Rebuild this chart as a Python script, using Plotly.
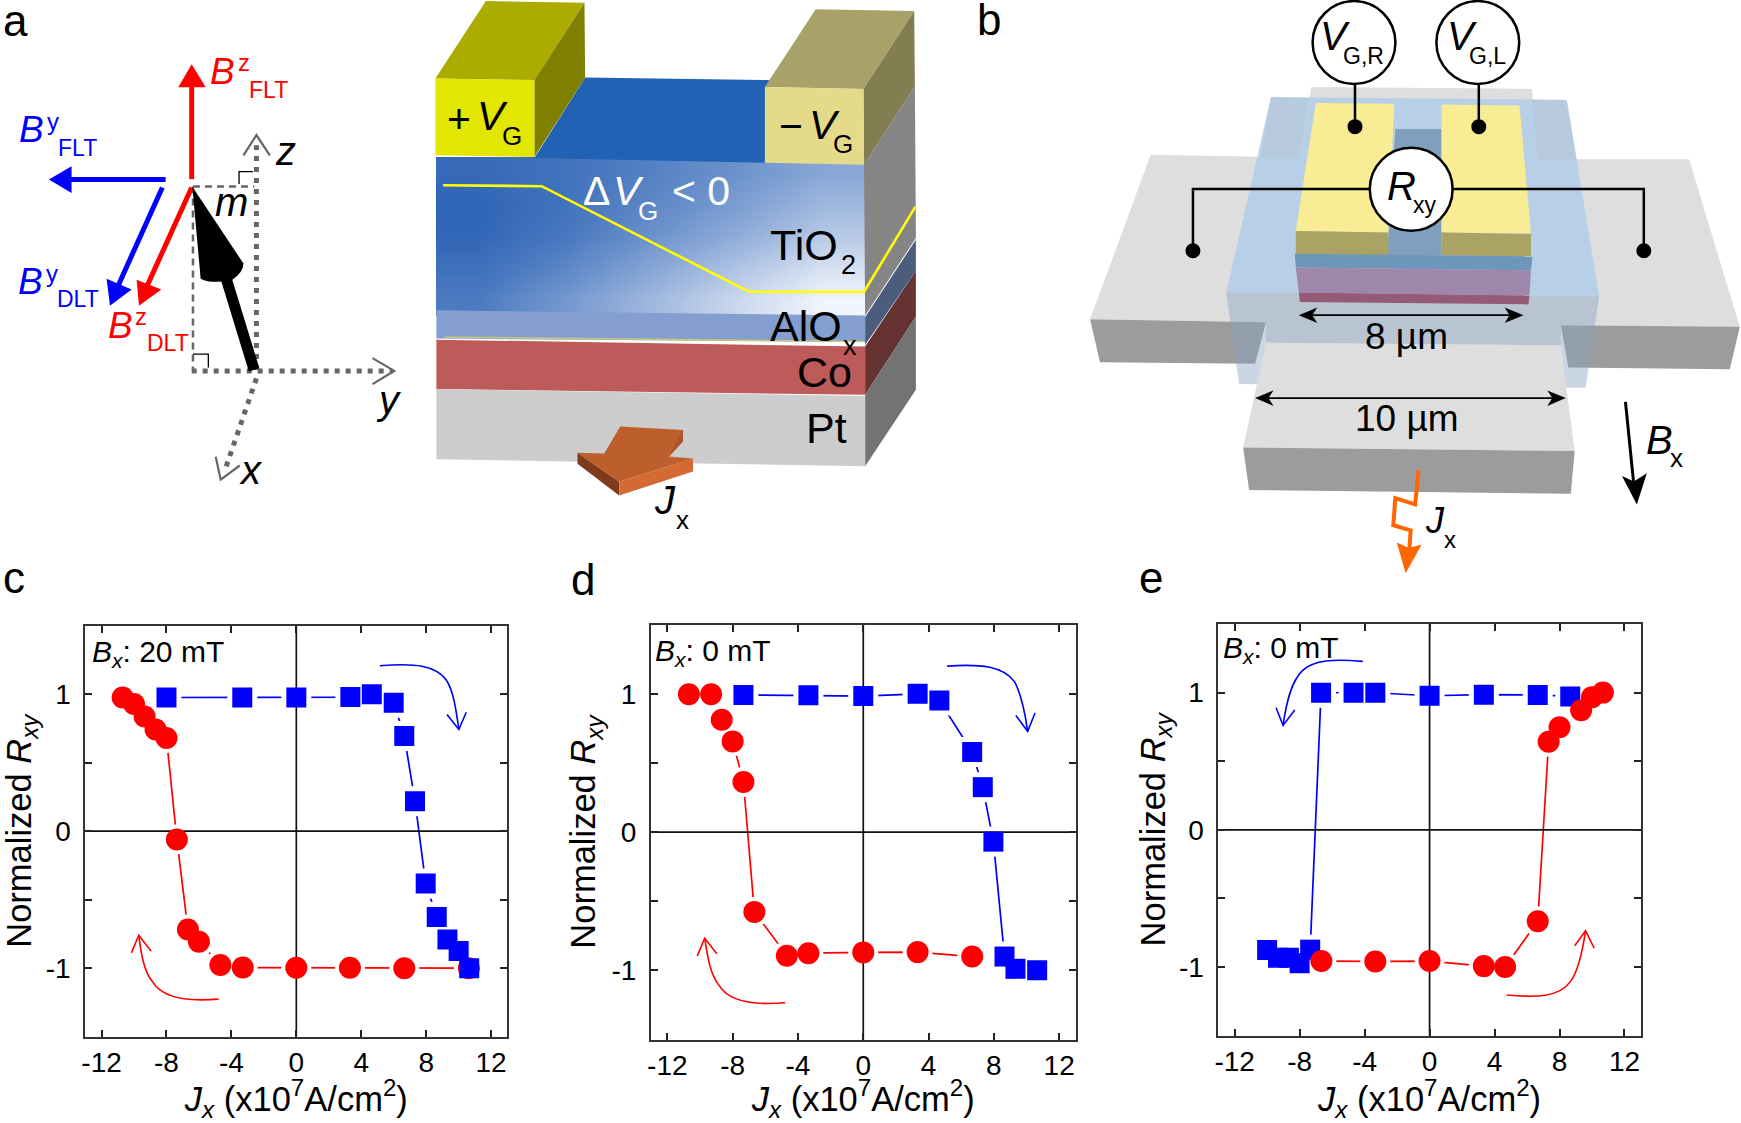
import plotly.graph_objects as go

W, H = 1741, 1123
FONT = "Liberation Sans"

# ---------- data ----------
X_TICKS = [-12, -8, -4, 0, 4, 8, 12]
X_TICK_LABELS = ["-12", "-8", "-4", "0", "4", "8", "12"]
Y_TICKS = [-1, -0.5, 0, 0.5, 1]
Y_TICK_LABELS = ["-1", "", "0", "", "1"]

C_RED_X = [-10.7, -10.0, -9.35, -8.67, -8.0, -7.36, -6.68, -6.0, -4.68, -3.3, 0, 3.3, 6.65, 10.63]
C_RED_Y = [0.976, 0.928, 0.837, 0.743, 0.68, -0.06, -0.717, -0.807, -0.976, -0.995, -0.997, -0.997, -1.0, -1.0]
C_BLUE_X = [-8.0, -3.33, 0, 3.33, 4.65, 6.0, 6.65, 7.31, 7.97, 8.65, 9.31, 10.0, 10.65]
C_BLUE_Y = [0.976, 0.976, 0.976, 0.979, 1.0, 0.938, 0.695, 0.219, -0.382, -0.626, -0.791, -0.874, -1.0]

D_RED_X = [-10.68, -9.32, -8.67, -8.0, -7.34, -6.67, -4.68, -3.36, 0, 3.33, 6.67]
D_RED_Y = [0.997, 0.997, 0.812, 0.656, 0.362, -0.577, -0.894, -0.876, -0.87, -0.868, -0.9]
D_BLUE_X = [-7.34, -3.36, 0, 3.33, 4.66, 6.67, 7.32, 7.97, 8.65, 9.32, 10.65]
D_BLUE_Y = [0.992, 0.989, 0.984, 1.0, 0.952, 0.579, 0.325, -0.069, -0.9, -0.989, -1.0]

E_RED_X = [-6.66, -3.34, 0, 3.34, 4.65, 6.66, 7.33, 8.0, 9.33, 10.0, 10.67]
E_RED_Y = [-0.956, -0.959, -0.956, -0.993, -1.0, -0.666, 0.642, 0.748, 0.871, 0.967, 1.0]
E_BLUE_X = [-10.0, -9.33, -8.66, -8.0, -7.35, -6.68, -4.68, -3.34, 0, 3.34, 6.66, 8.66]
E_BLUE_Y = [-0.876, -0.932, -0.932, -0.972, -0.873, 0.999, 0.999, 0.999, 0.977, 0.985, 0.983, 0.972]

PANEL_DATA = [
    (C_RED_X, C_RED_Y, C_BLUE_X, C_BLUE_Y, "red_first"),
    (D_RED_X, D_RED_Y, D_BLUE_X, D_BLUE_Y, "red_first"),
    (E_RED_X, E_RED_Y, E_BLUE_X, E_BLUE_Y, "blue_first"),
]
PANEL_BOXES = [(81.5, 504.5, 625.7, 1036.7), (648.5, 1074, 624.7, 1039.5), (1217.2, 1640.5, 624, 1035.7)]
PANEL_TITLE_GAP = [7, 5, 3]
PANEL_FIELD = ["20 mT", "0 mT", "0 mT"]

GRADIENT_X = [433, 519, 605, 692, 778, 864]
GRADIENT_Y = [157, 189, 221, 252, 284, 316]
GRADIENT_Z = [
    [0.04, 0.10, 0.20, 0.32, 0.46],
    [0.01, 0.10, 0.24, 0.40, 0.58],
    [0.02, 0.14, 0.32, 0.50, 0.70],
    [0.08, 0.24, 0.45, 0.66, 0.86],
    [0.16, 0.36, 0.58, 0.80, 1.00],
]

RED, BLUE = "#FF0000", "#0000FF"

fig = go.Figure()
shapes, notes = [], []


# ---------- helpers for the illustration layer (canvas pixels) ----------
def z4(p): return (p[0] / 2.99 - 5.2, p[1] / 2.96)
def z5(p): return (416.7 + p[0] / 2.986, p[1] / 2.9)
def z6(p): return (960 + p[0] / 2.007, p[1] / 2.7)
def zc(p): return (p[0] / 2.703 - 2.5, 550 + p[1] / 2.73)
def zd(p): return (558 + p[0] / 2.703, 550 + p[1] / 2.73)
def ze(p): return (1130 + p[0] / 2.566, 550 + p[1] / 2.737)


def add_shape(path, fill=None, color=None, width=0, dash=None):
    line = dict(width=width, color=color or "rgba(0,0,0,0)")
    if dash:
        line["dash"] = dash
    shapes.append(dict(type="path", path=path, xref="x4", yref="y4", layer="above",
                       fillcolor=fill or "rgba(0,0,0,0)", line=line))


def poly(mapper, pts, fill, color=None, width=0):
    q = [mapper(p) for p in pts]
    add_shape("M" + " L".join(f"{a:.1f},{b:.1f}" for a, b in q) + " Z", fill, color, width)


def pline(mapper, pts, color, width, dash=None):
    q = [mapper(p) for p in pts]
    add_shape("M" + " L".join(f"{a:.1f},{b:.1f}" for a, b in q), None, color, width, dash)


def circle(mapper, c, r, fill, color=None, width=0):
    x, y = mapper(c)
    shapes.append(dict(type="circle", xref="x4", yref="y4", layer="above",
                       x0=x - r, x1=x + r, y0=y - r, y1=y + r, fillcolor=fill,
                       line=dict(width=width, color=color or "rgba(0,0,0,0)")))


def text(mapper, pos, s, size, color="#000000", italic=False, xshift=-3):
    x, y = mapper(pos)
    if italic:
        s = f"<i>{s}</i>"
    notes.append(dict(x=max(x, 0.5), y=y - 0.3465 * size, xref="x4", yref="y4", text=s, showarrow=False,
                      xanchor="left", yanchor="middle", borderpad=0, xshift=xshift,
                      font=dict(family=FONT, size=size, color=color)))


def curved(mapper, start, segs, head, color):
    s = mapper(start)
    d = f"M{s[0]:.1f},{s[1]:.1f}"
    for c1, c2, e in segs:
        a, b, c = mapper(c1), mapper(c2), mapper(e)
        d += f" C{a[0]:.1f},{a[1]:.1f} {b[0]:.1f},{b[1]:.1f} {c[0]:.1f},{c[1]:.1f}"
    add_shape(d, None, color, 1.6)
    pline(mapper, head, color, 1.6)


# ---------- panels c, d, e ----------
for i, ((rx, ry, bx, by, order), box) in enumerate(zip(PANEL_DATA, PANEL_BOXES)):
    n = "" if i == 0 else str(i + 1)
    xa, ya = f"x{n}", f"y{n}"
    xaxis = dict(domain=[box[0] / W, box[1] / W], range=[-13, 13], tickvals=X_TICKS, ticktext=X_TICK_LABELS,
                 ticks="inside", ticklen=7, tickwidth=1.5, tickcolor="#222", showline=True, linecolor="#333",
                 linewidth=2, mirror="ticks", showgrid=False, zeroline=False, anchor=ya, ticklabelstandoff=0,
                 tickfont=dict(family=FONT, size=28, color="#000"),
                 title=dict(text="<i>J<sub>x</sub></i> (x10<sup>7</sup>A/cm<sup>2</sup>)", standoff=13,
                            font=dict(family=FONT, size=34.5, color="#000")))
    yaxis = dict(domain=[1 - box[3] / H, 1 - box[2] / H], range=[-1.5, 1.5], tickvals=Y_TICKS, ticktext=Y_TICK_LABELS,
                 ticks="inside", ticklen=7, tickwidth=1.5, tickcolor="#222", showline=True, linecolor="#333",
                 linewidth=2, mirror="ticks", showgrid=False, zeroline=False, anchor=xa, ticklabelstandoff=7,
                 tickfont=dict(family=FONT, size=28, color="#000"),
                 title=dict(text="Normalized <i>R<sub>xy</sub></i>", standoff=PANEL_TITLE_GAP[i],
                            font=dict(family=FONT, size=34.5, color="#000")))
    fig.update_layout({f"xaxis{n}": xaxis, f"yaxis{n}": yaxis})

    kw = dict(xaxis=xa, yaxis=ya, hoverinfo="skip", showlegend=False)
    fig.add_trace(go.Scatter(x=rx, y=ry, mode="lines", line=dict(color=RED, width=1.7), **kw))
    fig.add_trace(go.Scatter(x=bx, y=by, mode="lines", line=dict(color=BLUE, width=1.7), **kw))
    fig.add_trace(go.Scatter(x=rx, y=ry, mode="markers", marker=dict(symbol="circle", size=30, color="white"), **kw))
    fig.add_trace(go.Scatter(x=bx, y=by, mode="markers", marker=dict(symbol="square", size=30, color="white"), **kw))
    fig.add_trace(go.Scatter(x=[-13, 13], y=[0, 0], mode="lines", line=dict(color="#111", width=1.7), **kw))
    fig.add_trace(go.Scatter(x=[0, 0], y=[-1.5, 1.5], mode="lines", line=dict(color="#111", width=1.7), **kw))
    red = go.Scatter(x=rx, y=ry, mode="markers", name="red", marker=dict(symbol="circle", size=22, color=RED), **kw)
    blue = go.Scatter(x=bx, y=by, mode="markers", name="blue", marker=dict(symbol="square", size=20, color=BLUE), **kw)
    for tr in ([red, blue] if order == "red_first" else [blue, red]):
        fig.add_trace(tr)

text(zc, (250, 310), f"<i>B<sub>x</sub></i>: {PANEL_FIELD[0]}", 30)
text(zd, (260, 308), f"<i>B<sub>x</sub></i>: {PANEL_FIELD[1]}", 30)
text(ze, (240, 302), f"<i>B<sub>x</sub></i>: {PANEL_FIELD[2]}", 30)

curved(zc, (1025, 316), [((1120, 308), (1175, 315), (1205, 355)), ((1225, 385), (1232, 440), (1239, 490))],
       [(1207, 449), (1239, 490), (1259, 443)], BLUE)
curved(zc, (588, 1226), [((520, 1232), (440, 1230), (410, 1180)), ((385, 1150), (378, 1100), (372, 1052))],
       [(352, 1100), (372, 1052), (405, 1095)], RED)
curved(zd, (1047, 317), [((1140, 310), (1200, 318), (1230, 360)), ((1248, 395), (1258, 445), (1265, 495))],
       [(1233, 452), (1265, 495), (1285, 445)], BLUE)
curved(zd, (608, 1236), [((540, 1242), (460, 1240), (430, 1190)), ((405, 1160), (398, 1110), (390, 1060))],
       [(370, 1108), (390, 1060), (423, 1102)], RED)
curved(ze, (595, 305), [((520, 298), (470, 300), (440, 330)), ((410, 360), (398, 420), (390, 480))],
       [(372, 432), (390, 480), (420, 438)], BLUE)
curved(ze, (965, 1218), [((1040, 1225), (1100, 1225), (1130, 1180)), ((1150, 1150), (1160, 1100), (1168, 1042))],
       [(1140, 1083), (1168, 1042), (1190, 1090)], RED)

text(zc, (2, 118), "c", 44)
text(zd, (34, 122), "d", 44)
text(ze, (24, 118), "e", 44)

# ---------- panel a: vectors ----------
GD = "#666666"
pline(z4, [(772, 1095), (772, 430)], GD, 5, "5px,6px")
pline(z4, [(578, 1098), (1180, 1098)], GD, 5, "5px,6px")
pline(z4, [(772, 1120), (680, 1385)], GD, 5, "5px,6px")
pline(z4, [(582, 552), (765, 552)], GD, 2.5, "7px,5px")
pline(z4, [(582, 552), (582, 1095)], GD, 2.5, "7px,5px")
pline(z4, [(733, 460), (772, 400), (812, 460)], GD, 2.2)
pline(z4, [(1120, 1060), (1185, 1098), (1120, 1137)], GD, 2.2)
pline(z4, [(650, 1352), (665, 1420), (722, 1378)], GD, 2.2)
pline(z4, [(720, 545), (720, 508), (762, 508)], "#000", 1.3)
pline(z4, [(582, 1048), (628, 1048), (628, 1088)], "#000", 1.3)

pline(z4, [(578, 530), (578, 250)], RED, 5)
poly(z4, [(578, 190), (538, 258), (620, 258)], RED)
pline(z4, [(500, 531), (215, 531)], BLUE, 5)
poly(z4, [(150, 531), (218, 492), (218, 571)], BLUE)
pline(z4, [(490, 555), (358, 845)], BLUE, 5)
poly(z4, [(333, 905), (323, 825), (398, 857)], BLUE)
pline(z4, [(578, 555), (445, 845)], RED, 5)
poly(z4, [(420, 905), (413, 828), (487, 857)], RED)
pline(z4, [(765, 1095), (680, 820)], "#000", 11)
a, b, c, d, e, f = [z4(p) for p in [(580, 553), (733, 780), (733, 805), (640, 842), (605, 825), (700, 828)]]
add_shape(f"M{a[0]:.1f},{a[1]:.1f} L{b[0]:.1f},{b[1]:.1f} Q{c[0]:.1f},{c[1]:.1f} {f[0]:.1f},{f[1]:.1f} "
          f"Q{d[0]:.1f},{d[1]:.1f} {e[0]:.1f},{e[1]:.1f} Z", "#000")

text(z4, (2, 105), "a", 44)
text(z4, (640, 250), "B", 37, RED, True)
text(z4, (722, 210), "z", 24, RED)
text(z4, (756, 290), "FLT", 23, RED)
text(z4, (66, 420), "B", 37, BLUE, True)
text(z4, (149, 385), "y", 24, BLUE)
text(z4, (182, 462), "FLT", 23, BLUE)
text(z4, (62, 870), "B", 37, BLUE, True)
text(z4, (146, 835), "y", 24, BLUE)
text(z4, (180, 910), "DLT", 23, BLUE)
text(z4, (334, 1000), "B", 37, RED, True)
text(z4, (414, 962), "z", 24, RED)
text(z4, (451, 1040), "DLT", 23, RED)
text(z4, (654, 640), "m", 40, "#000", True)
text(z4, (834, 487), "z", 40, "#000", True)
text(z4, (1135, 1225), "y", 40, "#000", True)
text(z4, (726, 1432), "x", 40, "#000", True)

# ---------- panel a: stack ----------
fig.add_trace(go.Heatmap(x=GRADIENT_X, y=GRADIENT_Y, z=GRADIENT_Z, zmin=0, zmax=1, zsmooth="best", showscale=False,
                         colorscale=[[0, "#2E64B6"], [1, "#F2F5FB"]], hoverinfo="skip", xaxis="x4", yaxis="y4"))
poly(z5, [(495, 225), (1045, 232), (1033, 472), (343, 458)], "#2162B4")
poly(z5, [(47, 228), (198, 3), (493, 8), (343, 232)], "#ABAB00")
poly(z5, [(343, 232), (493, 8), (495, 225), (343, 455)], "#808000")
poly(z5, [(47, 228), (343, 232), (343, 455), (47, 450)], "#E3E600")
poly(z5, [(1033, 252), (1185, 27), (1480, 32), (1328, 258)], "#A9A268")
poly(z5, [(1328, 258), (1480, 32), (1482, 250), (1330, 478)], "#827E52")
poly(z5, [(1033, 252), (1328, 258), (1330, 478), (1033, 472)], "#E3DB8A")
poly(z5, [(1330, 478), (1482, 250), (1485, 690), (1333, 915)], "#858585")
poly(z5, [(1333, 920), (1485, 695), (1485, 785), (1333, 1000)], "#4A5D7C")
poly(z5, [(1333, 1005), (1485, 785), (1485, 918), (1333, 1145)], "#663333")
poly(z5, [(1333, 1145), (1485, 918), (1485, 1130), (1333, 1352)], "#737373")
poly(z5, [(50, 900), (1333, 915), (1333, 992), (50, 982)], "#849FCF")
poly(z5, [(50, 985), (1333, 1005), (1333, 1145), (50, 1128)], "#BD5A5A")
poly(z5, [(50, 1128), (1333, 1148), (1333, 1352), (50, 1332)], "#CDCDCD")
pline(z5, [(70, 537), (365, 540), (985, 846), (1330, 846), (1483, 600)], "#FFFF00", 2.6)
pline(z5, [(75, 978), (1330, 990)], "#C8C87A", 1.5)
poly(z5, [(472, 1313), (597, 1397), (597, 1437), (472, 1345)], "#7F3B1C")
poly(z5, [(597, 1397), (818, 1330), (818, 1367), (597, 1437)], "#D36A33")
poly(z5, [(788, 1247), (788, 1280), (745, 1325), (818, 1330), (700, 1320)], "#A9542A")
poly(z5, [(600, 1237), (788, 1247), (745, 1325), (818, 1330), (597, 1397), (472, 1313), (552, 1315)], "#BC5F2C")

text(z5, (88, 385), "+", 41)
text(z5, (176, 378), "V", 41, "#000", True)
text(z5, (251, 420), "G", 26)
text(z5, (1081, 408), "\u2212", 41)
text(z5, (1171, 403), "V", 41, "#000", True)
text(z5, (1244, 443), "G", 26)
text(z5, (496, 595), "\u0394", 41, "#FFF")
text(z5, (585, 595), "V", 41, "#FFF", True)
text(z5, (660, 637), "G", 26, "#FFF")
text(z5, (761, 595), "&lt; 0", 41, "#FFF")
text(z5, (1054, 755), "TiO", 43)
text(z5, (1266, 797), "2", 27)
text(z5, (1054, 988), "AlO", 43)
text(z5, (1274, 1030), "x", 27)
text(z5, (1136, 1123), "Co", 43)
text(z5, (1162, 1283), "Pt", 43)
text(z5, (708, 1490), "J", 40, "#000", True)
text(z5, (772, 1535), "x", 26)

# ---------- panel b: device ----------
poly(z6, [(703, 235), (1147, 240), (1160, 430), (1463, 430), (1565, 882), (1205, 878), (1205, 932), (612, 925),
          (612, 870), (258, 862), (380, 418), (680, 425)], "#DEDEDE")
poly(z6, [(258, 862), (612, 870), (590, 982), (278, 978)], "#9C9C9C")
poly(z6, [(1205, 878), (1565, 882), (1545, 997), (1220, 992)], "#9C9C9C")
poly(z6, [(622, 262), (1217, 270), (1282, 800), (532, 790)], "rgba(178,204,234,0.85)")
poly(z6, [(622, 262), (697, 265), (680, 425), (600, 425)], "rgba(170,180,190,0.3)")
poly(z6, [(1147, 268), (1217, 270), (1237, 430), (1160, 430)], "rgba(170,180,190,0.3)")
poly(z6, [(532, 790), (1282, 800), (1255, 1047), (558, 1037)], "rgba(140,165,195,0.45)")
poly(z6, [(612, 925), (1205, 932), (1233, 1218), (566, 1208)], "#DEDEDE")
poly(z6, [(566, 1208), (1233, 1218), (1225, 1333), (578, 1323)], "#9C9C9C")
poly(z6, [(872, 348), (965, 348), (965, 690), (856, 690)], "#7F9FBD")
poly(z6, [(712, 278), (870, 280), (858, 628), (672, 624)], "#F8EC95")
poly(z6, [(965, 282), (1122, 285), (1145, 630), (965, 628)], "#F8EC95")
poly(z6, [(672, 624), (858, 628), (858, 690), (672, 685)], "#ABA363")
poly(z6, [(965, 628), (1145, 632), (1145, 692), (965, 690)], "#ABA363")
poly(z6, [(670, 685), (1148, 692), (1145, 730), (672, 722)], "#6E96B8")
poly(z6, [(672, 722), (1145, 730), (1142, 798), (678, 790)], "#9F86AB")
poly(z6, [(678, 790), (1142, 798), (1140, 822), (680, 815)], "#955B76")

pline(z6, [(791, 228), (791, 342)], "#000", 2.5)
pline(z6, [(1040, 228), (1040, 342)], "#000", 2.5)
pline(z6, [(465, 677), (465, 510), (1372, 510), (1372, 677)], "#000", 2.5)
for c0 in [(791, 342), (1040, 342), (465, 677), (1372, 677)]:
    circle(z6, c0, 7.5, "#000")
circle(z6, (789, 115), 41.5, "#FFF", "#000", 2.5)
circle(z6, (1038, 115), 41.5, "#FFF", "#000", 2.5)
circle(z6, (904, 511), 41.5, "#FFF", "#000", 2.5)

pline(z6, [(700, 851), (1110, 851)], "#000", 1.8)
poly(z6, [(678, 851), (715, 830), (705, 851), (715, 872)], "#000")
poly(z6, [(1130, 851), (1092, 830), (1102, 851), (1092, 872)], "#000")
pline(z6, [(610, 1075), (1195, 1075)], "#000", 1.8)
poly(z6, [(590, 1075), (627, 1054), (617, 1075), (627, 1096)], "#000")
poly(z6, [(1215, 1075), (1178, 1054), (1188, 1075), (1178, 1096)], "#000")
pline(z6, [(1335, 1085), (1352, 1310)], "#000", 3)
poly(z6, [(1358, 1362), (1328, 1285), (1352, 1300), (1378, 1278)], "#000")
pline(z6, [(919, 1270), (912, 1362), (872, 1345), (868, 1418), (903, 1432), (900, 1490)], "#FF6600", 4)
poly(z6, [(893, 1548), (875, 1465), (900, 1480), (925, 1470)], "#FF6600")

text(z6, (35, 95), "b", 44)
text(z6, (725, 135), "V", 40, "#000", True)
text(z6, (770, 172), "G,R", 23)
text(z6, (980, 135), "V", 40, "#000", True)
text(z6, (1025, 172), "G,L", 23)
text(z6, (860, 540), "R", 40, "#000", True)
text(z6, (912, 576), "xy", 23)
text(z6, (815, 942), "8 \u00b5m", 37)
text(z6, (795, 1165), "10 \u00b5m", 37)
text(z6, (1380, 1225), "B", 40, "#000", True)
text(z6, (1428, 1262), "x", 26)
text(z6, (935, 1440), "J", 36, "#000", True)
text(z6, (975, 1478), "x", 24)

fig.update_layout(
    width=W, height=H, margin=dict(l=0, r=0, t=0, b=0), autosize=False, showlegend=False,
    paper_bgcolor="white", plot_bgcolor="rgba(0,0,0,0)", font=dict(family=FONT, color="#000"),
    xaxis4=dict(domain=[0, 1], range=[0, W], visible=False, anchor="y4", fixedrange=True),
    yaxis4=dict(domain=[0, 1], range=[H, 0], visible=False, anchor="x4", fixedrange=True),
    shapes=shapes, annotations=notes,
)
fig.write_html("out.html", config=dict(displayModeBar=False),
               post_script="document.body.style.margin='0';document.documentElement.style.overflow='hidden';")
